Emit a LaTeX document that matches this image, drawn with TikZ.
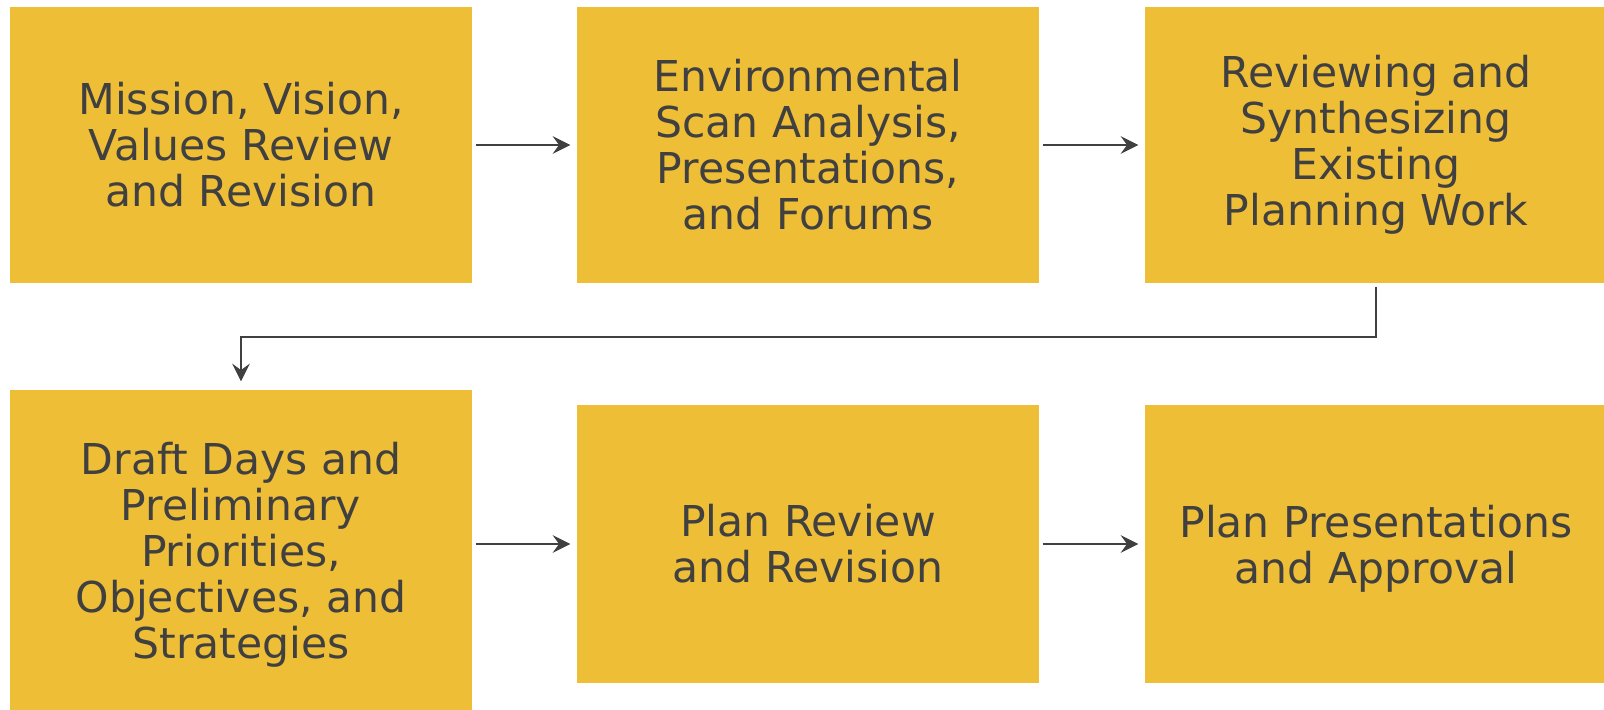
\documentclass[tikz,border=0pt]{standalone}
\usepackage{fontspec}
\setmainfont{DejaVu Sans}
\usetikzlibrary{arrows.meta,positioning,calc}
\definecolor{stagefill}{HTML}{EFBE37}
\definecolor{stagetext}{HTML}{404040}

\begin{document}
\begin{tikzpicture}[
		stagebox/.style={fill=stagefill, text=stagetext, align=center,
			minimum width=4.62cm, minimum height=2.76cm, inner sep=0pt,
			font=\fontsize{12.1pt}{13.1pt}\selectfont},
		flow/.style={draw=stagetext, line width=0.75pt,
			-{Stealth[length=5pt,width=5pt,inset=1.8pt]},
			shorten <=0.03cm, shorten >=0.06cm}
	]
	\useasboundingbox (0,0) rectangle (16.04,7.10);
	
	% First row
	\node[stagebox] (mission) at (2.41,5.65) {Mission, Vision,\\Values Review\\and Revision};
	\node[stagebox] (scan) at (8.08,5.65) {Environmental\\Scan Analysis,\\Presentations,\\and Forums};
	\node[stagebox] (synth) at (13.76,5.65) {Reviewing and\\Synthesizing\\Existing\\Planning Work};
	
	% Second row
	\node[stagebox, minimum height=3.20cm, text depth=0pt] (draft) at (2.41,1.60) {Draft Days and\\Preliminary\\Priorities,\\Objectives, and\\Strategies};
	\node[stagebox, minimum height=2.78cm] (review) at (8.08,1.66) {Plan Review\\and Revision};
	\node[stagebox, minimum height=2.78cm, text depth=0pt] (approve) at (13.76,1.66) {Plan Presentations\\and Approval};
	
	% Connectors
	\draw[flow] (mission.east |- scan.west) -- (scan.west);
	\draw[flow] (synth.west -| scan.east) -- (synth.west);
	\coordinate (turn) at (0,3.73);
	\draw[flow, shorten >=0.08cm] (synth.south) |- (turn -| draft.north) -- (draft.north);
	\draw[flow] (review.west -| draft.east) -- (review.west);
	\draw[flow] (approve.west -| review.east) -- (approve.west);
\end{tikzpicture}
\end{document}
